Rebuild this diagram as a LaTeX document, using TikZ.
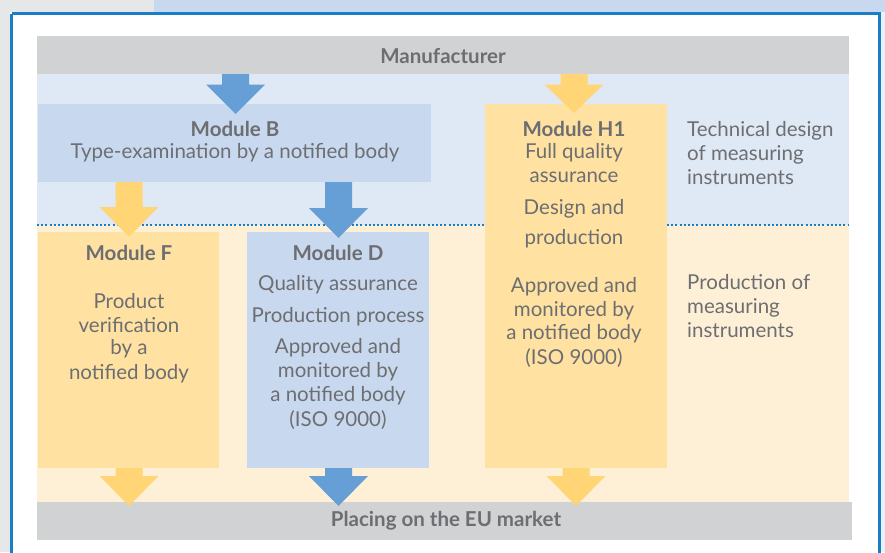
\documentclass[tikz,border=0pt]{standalone}
\usepackage{fontspec}
\setmainfont{Lato}
\definecolor{frameblue}{HTML}{1B7DC3}
\definecolor{bargrey}{HTML}{D1D2D4}
\definecolor{pagegrey}{HTML}{E6E7E8}
\definecolor{zoneblue}{HTML}{DFE8F5}
\definecolor{boxblue}{HTML}{C8D8EE}
\definecolor{zoneyellow}{HTML}{FEF0D7}
\definecolor{boxyellow}{HTML}{FFE2A2}
\definecolor{arrowyellow}{HTML}{FFD576}
\definecolor{arrowblue}{HTML}{659FD5}
\definecolor{txtgrey}{HTML}{6D6E71}
\definecolor{rightstrip}{HTML}{EAF0F8}
\begin{document}
\begin{tikzpicture}[x=1pt,y=-1pt,
  every node/.style={text=txtgrey,inner sep=0pt,font=\fontsize{20.5}{24}\selectfont},
  bar/.style={fill=bargrey,draw=none},
  modbox/.style={draw=none,anchor=north west},
  hd/.style={font=\fontsize{20.5}{24}\selectfont\bfseries},
  side/.style={anchor=west,align=left,font=\fontsize{20.5}{24}\selectfont}]
\useasboundingbox (0,0) rectangle (885,552);
% page background
\fill[white] (0,0) rectangle (885,552);
\fill[pagegrey] (0,0) rectangle (154,12);
\fill[pagegrey] (0,0) rectangle (10,552);
\fill[boxblue] (154,0) rectangle (885,12);
\fill[rightstrip] (881,12) rectangle (885,552);
\draw[frameblue,line width=2.5pt] (11.5,13.5) -- (879.5,13.5) -- (879.5,560) (11.5,13.5) -- (11.5,560);
% zones
\fill[zoneblue] (37,74) rectangle (849,225);
\fill[zoneyellow] (37,225) rectangle (849,502);
\draw[frameblue,line width=2pt,dash pattern=on 2pt off 2.2pt] (37,224.5) -- (849,224.5);
% bars
\node[bar,anchor=north west,minimum width=812pt,minimum height=38pt] (manu) at (37,36) {};
\node[hd] at (443,56) {Manufacturer};
\node[bar,anchor=north west,minimum width=815pt,minimum height=38pt] (market) at (37,502) {};
\node[hd] at (446,521) {Placing on the EU market};
% module boxes
\node[modbox,fill=boxblue,minimum width=393pt,minimum height=78pt] (modB) at (38,104) {};
\node[modbox,fill=boxyellow,minimum width=181pt,minimum height=236pt] (modF) at (38,232) {};
\node[modbox,fill=boxblue,minimum width=182pt,minimum height=236pt] (modD) at (247,232) {};
\node[modbox,fill=boxyellow,minimum width=182pt,minimum height=364pt] (modH) at (485,104) {};
% block arrows
\newcommand{\blkarrow}[5]{% cx, ytop, yhead, ytip, colour
  \fill[#5] (#1-13.5,#2) -- (#1+13.5,#2) -- (#1+13.5,#3) -- (#1+29.5,#3) -- (#1,#4) -- (#1-29.5,#3) -- (#1-13.5,#3) -- cycle;}
\blkarrow{235.5}{74}{84.5}{114}{arrowblue}
\blkarrow{574}{74}{84.5}{113}{arrowyellow}
\blkarrow{338.5}{182}{208}{238}{arrowblue}
\blkarrow{129}{182}{207}{237}{arrowyellow}
\blkarrow{129}{468}{476}{506}{arrowyellow}
\blkarrow{338.5}{468}{476}{506}{arrowblue}
\blkarrow{576}{468}{476}{506}{arrowyellow}
% texts module B
\node[hd] at (235,129) {Module B};
\node at (235,153) {Type-examination by a notified body};
% module H1
\node[hd] at (574,129) {Module H1};
\node at (574,153) {Full quality};
\node at (574,177) {assurance};
\node at (574,209) {Design and};
\node at (574,239) {production};
\node at (574,287) {Approved and};
\node at (574,311) {monitored by};
\node at (574,334) {a notified body};
\node at (574,358) {(ISO 9000)};
% side labels
\node[side] at (687,153) {Technical design\\of measuring\\instruments};
\node[side] at (687,306) {Production of\\measuring\\instruments};
% module F
\node[hd] at (129,253) {Module F};
\node at (129,301) {Product};
\node at (129,325) {verification};
\node at (129,349) {by a};
\node at (129,374) {notified body};
% module D
\node[hd] at (338,253) {Module D};
\node at (338,285) {Quality assurance};
\node at (338,317) {Production process};
\node at (338,348) {Approved and};
\node at (338,372) {monitored by};
\node at (338,396) {a notified body};
\node at (338,420) {(ISO 9000)};
\end{tikzpicture}
\end{document}
